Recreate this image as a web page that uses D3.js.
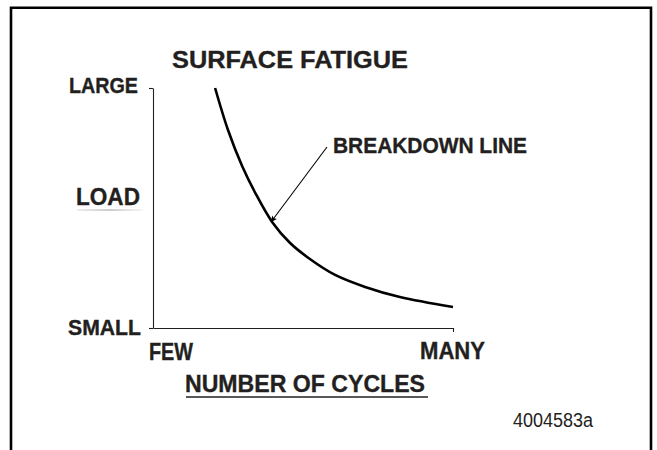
<!DOCTYPE html>
<html>
<head>
<meta charset="utf-8">
<script src="https://cdn.jsdelivr.net/npm/d3@7"></script>
<style>
html,body{margin:0;padding:0;background:#fff;}
svg{display:block;}
text{font-family:"Liberation Sans Narrow","Liberation Sans",Arial,sans-serif;fill:#231f20;}
</style>
</head>
<body>
<svg id="chart" width="657" height="450"></svg>
<script>
// Data (abstract units: 0 = few / small, 1 = many / large)
const cyclesX = [0.207, 0.25, 0.297, 0.343, 0.397, 0.457, 0.523, 0.607, 0.707, 0.823, 1.0];
const loadY   = [1.0, 0.825, 0.675, 0.558, 0.442, 0.354, 0.2875, 0.221, 0.171, 0.129, 0.0875];
const yTickLabels = ["SMALL", "LARGE"];
const xTickLabels = ["FEW", "MANY"];
const title = "SURFACE FATIGUE";
const yTitle = "LOAD";
const xTitle = "NUMBER OF CYCLES";
const annotation = "BREAKDOWN LINE";
const figId = "4004583a";

const svg = d3.select("#chart");

// frame
svg.append("path")
  .attr("d", "M11,460 L11,7.7 L651,7.7 L651,460")
  .attr("fill", "none").attr("stroke", "#000").attr("stroke-width", 2.6);

const x = d3.scaleLinear().domain([0, 1]).range([153, 453]);
const y = d3.scaleLinear().domain([0, 1]).range([328, 88]);

const axisColor = "#231f20";
const yAxis = svg.append("g").attr("transform", `translate(${x(0)},0)`)
  .call(d3.axisLeft(y).tickValues([0, 1]).tickSize(4).tickSizeOuter(0).tickFormat(""));
const xAxis = svg.append("g").attr("transform", `translate(0,${y(0)})`)
  .call(d3.axisBottom(x).tickValues([1]).tickSize(4).tickSizeOuter(0).tickFormat(""));
[yAxis, xAxis].forEach(g => {
  g.selectAll("path,line").attr("stroke", axisColor).attr("stroke-width", 1.1);
});

// curve
const pts = cyclesX.map((v, i) => [x(v), y(loadY[i])]);
svg.append("path")
  .attr("d", d3.line().curve(d3.curveCatmullRom.alpha(0.5))(pts))
  .attr("fill", "none").attr("stroke", "#000").attr("stroke-width", 2.6)
  .attr("stroke-linecap", "butt");

// arrow
const defs = svg.append("defs");
defs.append("marker").attr("id", "ah").attr("viewBox", "0 0 10 10")
  .attr("refX", 10).attr("refY", 5).attr("markerWidth", 10).attr("markerHeight", 6)
  .attr("markerUnits", "userSpaceOnUse").attr("orient", "auto")
  .append("path").attr("d", "M0,0 L10,5 L0,10 L2,5 Z").attr("fill", "#000");
svg.append("line")
  .attr("x1", 327).attr("y1", 147).attr("x2", 271).attr("y2", 222)
  .attr("stroke", "#000").attr("stroke-width", 1.1).attr("marker-end", "url(#ah)");

function label(txt, x0, base, len, size, weight) {
  const bold = (weight || "bold") === "bold";
  return svg.append("text").attr("x", x0).attr("y", base)
    .attr("font-size", size).attr("font-weight", weight || "bold")
    .attr("textLength", len).attr("lengthAdjust", "spacingAndGlyphs")
    .attr("stroke", bold ? "#231f20" : "none").attr("stroke-width", bold ? 0.35 : 0)
    .text(txt);
}

label(title, 172, 68, 236, 24.5);
label(yTickLabels[1], 69, 93, 69, 22);
label(yTickLabels[0], 68, 335, 73, 22.5);
label(yTitle, 76, 205, 64, 23.5);
label(xTickLabels[0], 149, 360, 44, 23);
label(xTickLabels[1], 420, 359, 65, 23);
label(xTitle, 185, 392, 240, 23.5);
label(annotation, 333, 153, 194, 22.5);
label(figId, 513, 427, 80, 20, "normal");

// underline under x title
svg.append("line").attr("x1", 186).attr("x2", 428).attr("y1", 397).attr("y2", 397)
  .attr("stroke", "#231f20").attr("stroke-width", 1.4);
// faint underline under LOAD
const grad = defs.append("linearGradient").attr("id", "fade");
grad.append("stop").attr("offset", "0").attr("stop-color", "#ddd");
grad.append("stop").attr("offset", "0.5").attr("stop-color", "#999");
grad.append("stop").attr("offset", "1").attr("stop-color", "#eee");
svg.append("rect").attr("x", 77).attr("y", 209.5).attr("width", 66).attr("height", 1)
  .attr("fill", "url(#fade)");
</script>
</body>
</html>
